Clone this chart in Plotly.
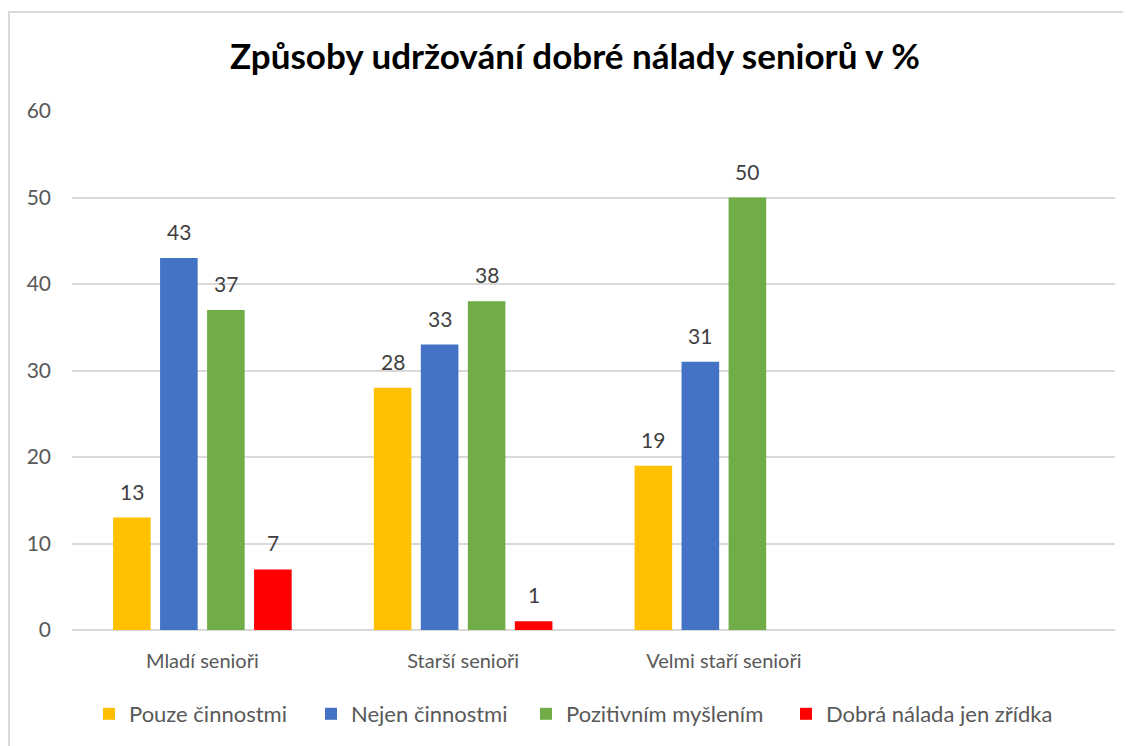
import plotly.graph_objects as go

categories = ["Mladí senioři", "Starší senioři", "Velmi staří senioři"]
series_names = ["Pouze činnostmi", "Nejen činnostmi", "Pozitivním myšlením", "Dobrá nálada jen zřídka"]
pouze = [13, 28, 19]
nejen = [43, 33, 31]
pozitivnim = [37, 38, 50]
zridka = [7, 1, None]
y_ticks = [0, 10, 20, 30, 40, 50, 60]

colors = ["#FFC000", "#4472C4", "#70AD47", "#FF0000"]
FONT = "Lato"

OFF = 8  # page body margin of the browser
W, H = 1131 - OFF, 746 - OFF
L, R, T, B = 72 - OFF, 16, 111 - OFF, 116
pw, ph = W - L - R, H - T - B
BARGAP, GROUPGAP = 0.279, 0.2
N_CAT_SLOTS = 4  # axis shows room for four categories
LEGEND_SYMBOL_CENTERS = [114, 336, 551, 811]  # screen px, layout only

def sx(px):  # screen px -> paper x
    return (px - OFF - L) / pw

def sy(py):  # screen px -> paper y
    return (H - B - (py - OFF)) / ph

legend_ids = ["legend", "legend2", "legend3", "legend4"]

fig = go.Figure()
all_series = [pouze, nejen, pozitivnim, zridka]
for name, vals, col, lid in zip(series_names, all_series, colors, legend_ids):
    fig.add_trace(go.Bar(
        x=categories, y=vals, name=name, legend=lid, showlegend=True,
        marker=dict(color=col, line=dict(width=0)),
        cliponaxis=False,
    ))

# data labels above bars, offset within the group like the bars
slot_px = pw / N_CAT_SLOTS * (1 - BARGAP) / len(all_series)
annotations = []
for i, vals in enumerate(all_series):
    shift = (i - (len(all_series) - 1) / 2) * slot_px
    for cat, v in zip(categories, vals):
        if v is None:
            continue
        annotations.append(dict(
            x=cat, y=v, xref="x", yref="y", text=str(v), showarrow=False,
            xanchor="center", yanchor="bottom", xshift=shift, yshift=12,
            font=dict(family=FONT, size=21, color="#404040"),
        ))

legend_layouts = {}
for lid, cx in zip(legend_ids, LEGEND_SYMBOL_CENTERS):
    legend_layouts[lid] = dict(
        orientation="h", x=sx(cx - 25), xanchor="left",
        y=sy(714), yanchor="middle", bgcolor="rgba(0,0,0,0)",
        font=dict(family=FONT, size=22, color="#595959"),
        itemwidth=30, visible=True,
    )

fig.update_layout(
    width=W, height=H,
    autosize=False,
    showlegend=True,
    margin=dict(l=L, r=R, t=T, b=B, autoexpand=False),
    paper_bgcolor="white", plot_bgcolor="white",
    barmode="group", bargap=BARGAP, bargroupgap=GROUPGAP,
    font=dict(family=FONT, color="#595959", size=20),
    title=dict(text="<b>Způsoby udržování dobré nálady seniorů v %</b>",
               x=(575 - OFF) / W, xref="container", xanchor="center",
               y=1 - (57 - OFF) / H, yref="container", yanchor="middle",
               font=dict(family=FONT, size=35, color="#000000")),
    xaxis=dict(range=[-0.5, N_CAT_SLOTS - 0.5], showgrid=False, showline=False, zeroline=False,
               ticks="", tickangle=0, automargin=False,
               tickfont=dict(family=FONT, size=20, color="#595959"),
               ticklabelstandoff=17),
    yaxis=dict(range=[0, 60], tickvals=y_ticks, showgrid=True, gridcolor="#D9D9D9",
               gridwidth=1.5, zeroline=True, zerolinecolor="#D9D9D9", zerolinewidth=2,
               showline=False, ticks="", ticklabelstandoff=20, automargin=False,
               tickfont=dict(family=FONT, size=21, color="#595959")),
    annotations=annotations,
    shapes=[
        dict(type="line", xref="paper", yref="paper",
             x0=sx(8), x1=sx(1140), y0=sy(12), y1=sy(12),
             line=dict(color="#D9D9D9", width=2)),
        dict(type="line", xref="paper", yref="paper",
             x0=sx(9), x1=sx(9), y0=sy(12), y1=sy(760),
             line=dict(color="#D9D9D9", width=2)),
    ],
    **legend_layouts,
)

fig.write_html("out.html")
